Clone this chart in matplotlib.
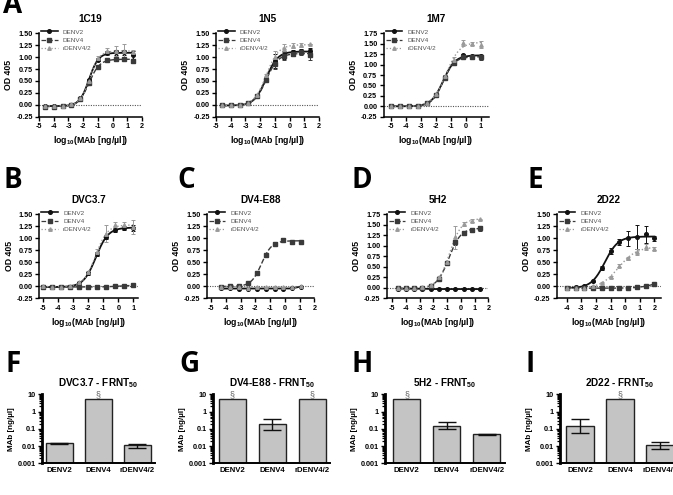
import numpy as np
import matplotlib
matplotlib.use("Agg")
import matplotlib.pyplot as plt
from matplotlib.lines import Line2D
from matplotlib.ticker import FixedLocator, FuncFormatter, LogLocator, NullFormatter

plt.rcParams['font.family'] = ['Liberation Sans', 'DejaVu Sans']
plt.rcParams['mathtext.fontset'] = 'custom'
plt.rcParams['mathtext.bf'] = 'Liberation Sans:bold'
plt.rcParams['mathtext.rm'] = 'Liberation Sans:bold'
plt.rcParams['mathtext.default'] = 'bf'

# ---------------- data ----------------
series_names = ["DENV2", "DENV4", "rDENV4/2"]

# panel A: 1C19
c19_x = [-4.6, -4.0, -3.4, -2.8, -2.2, -1.6, -1.0, -0.4, 0.2, 0.8, 1.4]
c19_denv2 = [-0.03, -0.03, -0.03, 0.0, 0.14, 0.52, 0.95, 1.08, 1.10, 1.10, 1.05]
c19_denv4 = [-0.04, -0.04, -0.03, 0.0, 0.13, 0.45, 0.80, 0.94, 0.96, 0.96, 0.92]
c19_r42 = [-0.03, -0.03, -0.03, 0.01, 0.15, 0.50, 0.98, 1.12, 1.13, 1.12, 1.10]
c19_err2 = [0, 0, 0, 0, 0.01, 0.03, 0.04, 0.04, 0.05, 0.05, 0.08]
c19_err4 = [0, 0, 0, 0, 0.01, 0.02, 0.03, 0.03, 0.03, 0.03, 0.05]
c19_errr = [0, 0, 0, 0, 0.01, 0.03, 0.05, 0.08, 0.10, 0.16, 0.05]

# panel A: 1N5
n5_x = [-4.6, -4.0, -3.4, -2.8, -2.2, -1.6, -1.0, -0.4, 0.2, 0.8, 1.4]
n5_denv2 = [-0.01, -0.01, -0.01, 0.03, 0.19, 0.55, 0.92, 1.05, 1.10, 1.12, 1.13]
n5_denv4 = [-0.01, -0.01, -0.01, 0.03, 0.18, 0.52, 0.85, 1.02, 1.07, 1.10, 1.05]
n5_r42 = [-0.01, -0.01, 0.0, 0.04, 0.21, 0.62, 1.00, 1.20, 1.24, 1.25, 1.27]
n5_err2 = [0, 0, 0, 0, 0.01, 0.03, 0.15, 0.08, 0.05, 0.05, 0.06]
n5_err4 = [0, 0, 0, 0, 0.01, 0.03, 0.10, 0.08, 0.05, 0.05, 0.12]
n5_errr = [0, 0, 0, 0, 0.01, 0.03, 0.12, 0.08, 0.05, 0.04, 0.0]

# panel A: 1M7
m7_x = [-5.0, -4.4, -3.8, -3.2, -2.6, -2.0, -1.4, -0.8, -0.2, 0.4, 1.0]
m7_denv2 = [0.0, 0.0, 0.0, 0.01, 0.08, 0.28, 0.70, 1.05, 1.22, 1.20, 1.20]
m7_denv4 = [0.0, 0.0, 0.0, 0.01, 0.07, 0.26, 0.68, 1.03, 1.18, 1.18, 1.17]
m7_r42 = [0.0, 0.0, 0.0, 0.01, 0.08, 0.30, 0.72, 1.12, 1.52, 1.50, 1.48]
m7_err2 = [0, 0, 0, 0, 0.01, 0.03, 0.04, 0.04, 0.03, 0.03, 0.04]
m7_err4 = [0, 0, 0, 0, 0.01, 0.03, 0.04, 0.04, 0.03, 0.03, 0.05]
m7_errr = [0, 0, 0, 0, 0.01, 0.03, 0.04, 0.05, 0.08, 0.03, 0.08]

# panel B: DVC3.7
dvc_x = [-5.0, -4.4, -3.8, -3.2, -2.6, -2.0, -1.4, -0.8, -0.2, 0.4, 1.0]
dvc_denv2 = [-0.01, -0.02, -0.01, -0.01, 0.07, 0.27, 0.68, 1.02, 1.17, 1.22, 1.22]
dvc_denv4 = [-0.01, -0.02, -0.02, -0.01, -0.01, -0.02, -0.01, -0.01, 0.0, 0.01, 0.02]
dvc_r42 = [0.0, -0.01, -0.01, 0.0, 0.09, 0.29, 0.72, 1.10, 1.27, 1.28, 1.24]
dvc_err2 = [0, 0, 0, 0, 0.02, 0.03, 0.04, 0.04, 0.04, 0.04, 0.06]
dvc_err4 = [0, 0, 0, 0, 0, 0, 0, 0, 0, 0, 0]
dvc_errr = [0, 0, 0, 0, 0.02, 0.03, 0.05, 0.18, 0.06, 0.05, 0.15]

# panel C: DV4-E88
e88_x = [-4.3, -3.7, -3.1, -2.5, -1.9, -1.3, -0.7, -0.1, 0.5, 1.1]
e88_denv2 = [-0.04, -0.04, -0.05, -0.05, -0.05, -0.05, -0.05, -0.05, -0.04, -0.01]
e88_denv4 = [-0.01, 0.0, 0.0, 0.07, 0.27, 0.65, 0.89, 0.97, 0.93, 0.92]
e88_r42 = [-0.02, -0.02, -0.02, -0.03, -0.02, -0.02, -0.02, -0.02, -0.02, 0.0]
e88_err2 = [0, 0, 0, 0, 0, 0, 0, 0, 0, 0]
e88_err4 = [0, 0, 0, 0.01, 0.02, 0.03, 0.03, 0.03, 0.02, 0.02]
e88_errr = [0, 0, 0, 0, 0, 0, 0, 0, 0, 0]

# panel D: 5H2
h2_x = [-4.6, -4.0, -3.4, -2.8, -2.2, -1.6, -1.0, -0.4, 0.2, 0.8, 1.4]
h2_denv2 = [-0.02, -0.02, -0.02, -0.02, -0.03, -0.03, -0.03, -0.03, -0.03, -0.03, -0.03]
h2_denv4 = [-0.01, -0.01, -0.01, 0.0, 0.05, 0.22, 0.60, 1.08, 1.30, 1.38, 1.42]
h2_r42 = [-0.01, -0.01, 0.0, 0.01, 0.06, 0.25, 0.62, 1.20, 1.52, 1.60, 1.63]
h2_err2 = [0, 0, 0, 0, 0, 0, 0, 0, 0, 0, 0]
h2_err4 = [0, 0, 0, 0, 0.01, 0.02, 0.03, 0.05, 0.05, 0.05, 0.06]
h2_errr = [0, 0, 0, 0, 0.01, 0.02, 0.03, 0.28, 0.05, 0.03, 0.02]

# panel E: 2D22
d22_x = [-4.0, -3.4, -2.8, -2.2, -1.6, -1.0, -0.4, 0.2, 0.8, 1.4, 2.0]
d22_denv2 = [-0.03, -0.02, 0.01, 0.11, 0.38, 0.73, 0.92, 1.00, 1.03, 1.08, 1.00]
d22_denv4 = [-0.04, -0.04, -0.04, -0.04, -0.04, -0.04, -0.04, -0.03, -0.02, 0.0, 0.05]
d22_r42 = [-0.04, -0.04, -0.03, 0.0, 0.07, 0.20, 0.43, 0.58, 0.72, 0.82, 0.78]
d22_err2 = [0, 0, 0, 0.01, 0.05, 0.06, 0.06, 0.15, 0.25, 0.18, 0.05]
d22_err4 = [0, 0, 0, 0, 0, 0, 0, 0, 0, 0, 0.02]
d22_errr = [0, 0, 0, 0, 0.01, 0.02, 0.03, 0.04, 0.06, 0.06, 0.03]

# FRNT50 bars
bar_categories = ["DENV2", "DENV4", "rDENV4/2"]
dvc_frnt = [0.015, 5.0, 0.011]
dvc_frnt_lo = [0.0135, 5.0, 0.008]
dvc_frnt_hi = [0.0160, 5.0, 0.014]
dvc_frnt_cap = [False, True, False]

e88_frnt = [5.0, 0.18, 5.0]
e88_frnt_lo = [5.0, 0.08, 5.0]
e88_frnt_hi = [5.0, 0.38, 5.0]
e88_frnt_cap = [True, False, True]

h2_frnt = [5.0, 0.15, 0.048]
h2_frnt_lo = [5.0, 0.095, 0.046]
h2_frnt_hi = [5.0, 0.24, 0.050]
h2_frnt_cap = [True, False, False]

d22_frnt = [0.14, 5.0, 0.011]
d22_frnt_lo = [0.055, 5.0, 0.007]
d22_frnt_hi = [0.35, 5.0, 0.017]
d22_frnt_cap = [False, True, False]

# ---------------- figure ----------------
W, H = 673, 495
fig = plt.figure(figsize=(W / 100, H / 100), dpi=100)


def ax_px(l, r, t, b):
    return fig.add_axes([l / W, 1 - b / H, (r - l) / W, (b - t) / H])


def fit4pl(x, y):
    x = np.asarray(x, float)
    y = np.asarray(y, float)
    ecs = np.arange(x.min() - 0.5, x.max() + 0.5, 0.02)
    best = (np.inf, None)
    for h in np.arange(0.4, 3.01, 0.05):
        S = 1.0 / (1.0 + 10 ** ((ecs[:, None] - x[None, :]) * h))
        U = 1 - S
        a11 = (U * U).sum(1); a12 = (U * S).sum(1); a22 = (S * S).sum(1)
        r1 = (U * y).sum(1); r2 = (S * y).sum(1)
        det = a11 * a22 - a12 ** 2
        with np.errstate(divide='ignore', invalid='ignore'):
            b = (a22 * r1 - a12 * r2) / det
            t = (a11 * r2 - a12 * r1) / det
            res = ((b[:, None] * U + t[:, None] * S - y[None, :]) ** 2).sum(1)
        res = np.where(np.isfinite(res) & (np.abs(det) > 1e-6), res, np.inf)
        i = int(np.argmin(res))
        if res[i] < best[0]:
            best = (res[i], (b[i], t[i], ecs[i], h))
    if best[1] is None:
        m = y.mean()
        return lambda xx: np.full_like(xx, m)
    b, t, ec, h = best[1]
    return lambda xx: b + (t - b) / (1 + 10 ** ((ec - xx) * h))


styles = [
    dict(color='#111111', marker='o', ls='-', lw=1.3, ms=2.6),
    dict(color='#3a3a3a', marker='s', ls='--', lw=1.0, ms=2.4),
    dict(color='#9a9a9a', marker='^', ls=':', lw=1.0, ms=2.5),
]

TICK_FS = 5.2
LAB_FS = 6.3
TITLE_FS = 7.2


def style_axes(ax, lw=1.1):
    for s in ['top', 'right']:
        ax.spines[s].set_visible(False)
    for s in ['left', 'bottom']:
        ax.spines[s].set_linewidth(lw)
    ax.tick_params(axis='both', which='major', direction='out', length=3, width=1.0,
                   labelsize=TICK_FS, pad=1.5)
    for lab in ax.get_xticklabels() + ax.get_yticklabels():
        lab.set_fontweight('bold')


def curve_panel(ax, title, x, ys, errs, xlim, xticks, ymax):
    xs = np.linspace(min(x), max(x), 300)
    for y, e, st in zip(ys, errs, styles):
        f = fit4pl(x, y)
        ax.plot(xs, f(xs), color=st['color'], ls=st['ls'], lw=st['lw'], zorder=3)
        ax.errorbar(x, y, yerr=e, fmt=st['marker'], color=st['color'], ms=st['ms'],
                    elinewidth=0.7, capsize=1.6, capthick=0.7, zorder=4)
    ax.axhline(0, color='#555555', ls=(0, (1, 1.2)), lw=0.8, zorder=2)
    ax.set_xlim(*xlim)
    ax.set_ylim(-0.25, ymax)
    ax.set_xticks(xticks)
    ax.set_xticklabels([str(v) for v in xticks])
    yt = np.arange(-0.25, ymax + 0.001, 0.25)
    ax.set_yticks(yt)
    ax.set_yticklabels(['%.2f' % v for v in yt])
    style_axes(ax)
    ax.set_title(title, fontsize=TITLE_FS, fontweight='bold', pad=8)
    ax.set_ylabel('OD 405', fontsize=LAB_FS, fontweight='bold', labelpad=2)
    ax.set_xlabel(r'log$_{10}$(MAb [ng/µl])', fontsize=LAB_FS, fontweight='bold', labelpad=3)
    handles = [Line2D([], [], color=st['color'], ls=st['ls'], lw=st['lw'] * 0.9,
                      marker=st['marker'], ms=st['ms']) for st in styles]
    leg = ax.legend(handles, series_names, loc='upper left', bbox_to_anchor=(0.02, 1.05),
                    frameon=False, fontsize=4.6, handlelength=2.6, handletextpad=0.8,
                    labelspacing=0.45, borderaxespad=0, borderpad=0)
    for t in leg.get_texts():
        t.set_color('#555555')


def bar_panel(ax, title, vals, lo, hi, capped, xlim):
    pos = np.arange(len(bar_categories))
    base = 0.001
    ax.bar(pos, np.array(vals) - base, bottom=base, width=0.68, color='#c4c4c4',
           edgecolor='#222222', linewidth=1.0, zorder=2)
    for p, v, l, h, c in zip(pos, vals, lo, hi, capped):
        if c:
            ax.text(p, v * 1.05, '§', ha='center', va='bottom', fontsize=6.5, color='#666666')
        else:
            ax.errorbar([p], [v], yerr=[[v - l], [h - v]], fmt='none', color='#111111',
                        elinewidth=1.0, capsize=6.5, capthick=1.0, zorder=3)
    ax.set_yscale('log')
    ax.set_ylim(0.001, 10)
    ax.set_xlim(*xlim)
    ax.set_xticks(pos)
    ax.set_xticklabels(bar_categories)
    ax.yaxis.set_major_locator(FixedLocator([0.001, 0.01, 0.1, 1, 10]))
    ax.yaxis.set_major_formatter(FuncFormatter(lambda v, p: ('%g' % v)))
    ax.yaxis.set_minor_locator(LogLocator(base=10, subs=np.arange(2, 10)))
    ax.yaxis.set_minor_formatter(NullFormatter())
    style_axes(ax, lw=1.4)
    ax.spines['left'].set_linewidth(2.0)
    ax.tick_params(axis='x', length=0, labelsize=5.6, pad=3)
    ax.tick_params(axis='y', which='minor', length=2, width=0.9)
    for lab in ax.get_xticklabels() + ax.get_yticklabels():
        lab.set_fontweight('bold')
    ax.set_title(title, fontsize=TITLE_FS, fontweight='bold', pad=6)
    ax.set_ylabel('MAb [ng/µl]', fontsize=5.8, fontweight='bold', labelpad=2)


# top row
ax = ax_px(39, 142, 33.3, 116.7)
curve_panel(ax, '1C19', c19_x, [c19_denv2, c19_denv4, c19_r42], [c19_err2, c19_err4, c19_errr],
            (-5, 2), list(range(-5, 3)), 1.5)
ax = ax_px(216, 319, 33.3, 116.7)
curve_panel(ax, '1N5', n5_x, [n5_denv2, n5_denv4, n5_r42], [n5_err2, n5_err4, n5_errr],
            (-5, 2), list(range(-5, 3)), 1.5)
ax = ax_px(383.5, 488.5, 33.3, 116.7)
curve_panel(ax, '1M7', m7_x, [m7_denv2, m7_denv4, m7_r42], [m7_err2, m7_err4, m7_errr],
            (-5.5, 1.5), list(range(-5, 2)), 1.75)

# middle row
ax = ax_px(39.3, 138.3, 214.3, 298.3)
curve_panel(ax, 'DVC3.7', dvc_x, [dvc_denv2, dvc_denv4, dvc_r42], [dvc_err2, dvc_err4, dvc_errr],
            (-5.27, 1.33), list(range(-5, 2)), 1.5)
ax = ax_px(206.7, 314.3, 214.3, 298.3)
curve_panel(ax, 'DV4-E88', e88_x, [e88_denv2, e88_denv4, e88_r42], [e88_err2, e88_err4, e88_errr],
            (-5.3, 2.0), list(range(-5, 3)), 1.5)
ax = ax_px(386.7, 488.3, 214.3, 298.3)
curve_panel(ax, '5H2', h2_x, [h2_denv2, h2_denv4, h2_r42], [h2_err2, h2_err4, h2_errr],
            (-5.4, 2.0), list(range(-5, 3)), 1.75)
ax = ax_px(556.7, 661, 214.3, 298.3)
curve_panel(ax, '2D22', d22_x, [d22_denv2, d22_denv4, d22_r42], [d22_err2, d22_err4, d22_errr],
            (-4.69, 2.45), list(range(-4, 3)), 1.5)

# bottom row
ax = ax_px(41.7, 155, 394.3, 463.3)
bar_panel(ax, r'DVC3.7 - FRNT$_{50}$', dvc_frnt, dvc_frnt_lo, dvc_frnt_hi, dvc_frnt_cap, (-0.45, 2.45))
ax = ax_px(213.3, 330, 394.3, 463.3)
bar_panel(ax, r'DV4-E88 - FRNT$_{50}$', e88_frnt, e88_frnt_lo, e88_frnt_hi, e88_frnt_cap, (-0.48, 2.45))
ax = ax_px(385, 505, 394.3, 463.3)
bar_panel(ax, r'5H2 - FRNT$_{50}$', h2_frnt, h2_frnt_lo, h2_frnt_hi, h2_frnt_cap, (-0.54, 2.46))
ax = ax_px(560, 680, 394.3, 463.3)
bar_panel(ax, r'2D22 - FRNT$_{50}$', d22_frnt, d22_frnt_lo, d22_frnt_hi, d22_frnt_cap, (-0.5, 2.5))

# panel letters
letters = [('A', 3, 13), ('B', 4, 188), ('C', 177, 188), ('D', 351, 188), ('E', 527, 188),
           ('F', 6, 372), ('G', 179, 372), ('H', 352, 372), ('I', 526, 372)]
for s, xp, yp in letters:
    fig.text(xp / W, 1 - yp / H, s, fontsize=20, fontweight='bold', family=['Open Sans', 'DejaVu Sans'],
             ha='left', va='baseline')

fig.savefig('out.png', dpi=100)
